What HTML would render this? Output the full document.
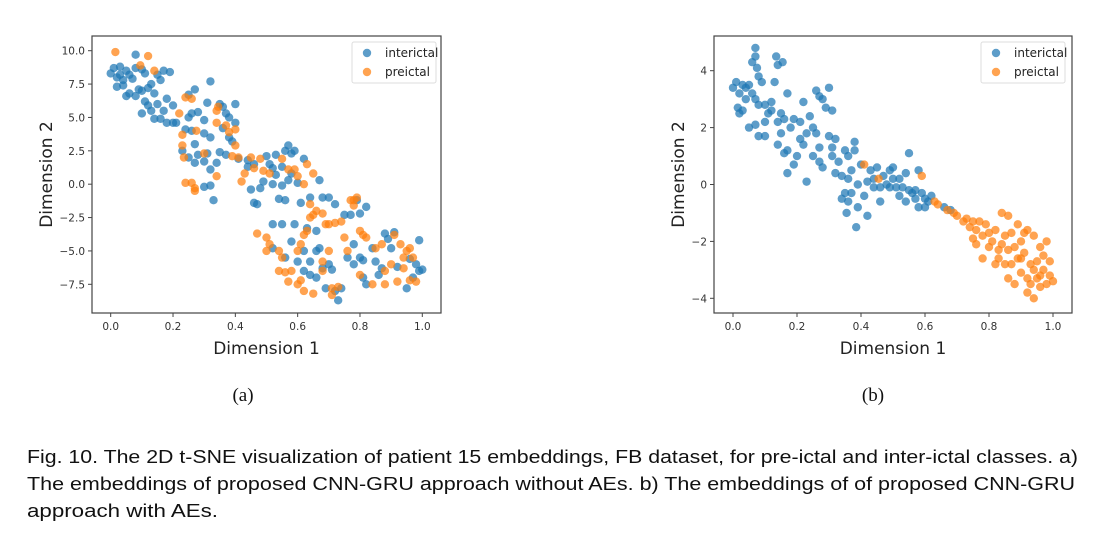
<!DOCTYPE html>
<html><head><meta charset="utf-8"><style>
html,body{margin:0;padding:0;background:#fff;}
svg{display:block;}
.tick{font-family:"DejaVu Sans","Liberation Sans",sans-serif;font-size:10.5px;fill:#333;}
.axl{font-family:"DejaVu Sans","Liberation Sans",sans-serif;font-size:17px;fill:#222;}
.leg{font-family:"DejaVu Sans","Liberation Sans",sans-serif;font-size:12px;fill:#222;}
.cap{font-family:"Liberation Sans",sans-serif;font-size:18px;fill:#111;}
.sub{font-family:"Liberation Serif",serif;font-size:19px;fill:#111;}
</style></head><body>
<svg id="root" width="1095" height="533" viewBox="0 0 1095 533" xmlns="http://www.w3.org/2000/svg">
<text class="sub" x="243" y="401" text-anchor="middle">(a)</text>
<text class="sub" x="873" y="401" text-anchor="middle">(b)</text>
<text class="cap" x="27" y="463" textLength="1051" lengthAdjust="spacingAndGlyphs">Fig. 10.  The 2D t-SNE visualization of patient 15 embeddings, FB dataset, for pre-ictal and inter-ictal classes. a)</text>
<text class="cap" x="27" y="490" textLength="1048" lengthAdjust="spacingAndGlyphs">The embeddings of proposed CNN-GRU approach without AEs. b) The embeddings of of proposed CNN-GRU</text>
<text class="cap" x="27" y="517" textLength="191" lengthAdjust="spacingAndGlyphs">approach with AEs.</text>
</svg>
<script>
const xTicksA = [0.0,0.2,0.4,0.6,0.8,1.0];
const xTickLabelsA = ["0.0","0.2","0.4","0.6","0.8","1.0"];
const yTicksA = [10,7.5,5,2.5,0,-2.5,-5,-7.5];
const yTickLabelsA = ["10.0","7.5","5.0","2.5","0.0","\u22122.5","\u22125.0","\u22127.5"];
const interictalA = [[0.0,8.3],[0.01,8.7],[0.02,8.0],[0.03,8.8],[0.02,7.3],[0.04,7.8],[0.05,8.5],[0.06,8.2],[0.04,7.4],[0.07,7.9],[0.08,8.7],[0.06,6.8],[0.08,6.6],[0.09,7.1],[0.1,8.6],[0.11,8.3],[0.1,7.0],[0.12,7.2],[0.11,6.2],[0.13,7.5],[0.14,6.8],[0.15,6.0],[0.13,5.5],[0.1,5.3],[0.16,7.8],[0.17,8.5],[0.19,8.4],[0.18,6.4],[0.17,5.5],[0.16,4.9],[0.18,4.6],[0.2,4.6],[0.21,4.6],[0.2,5.9],[0.15,8.2],[0.08,9.7],[0.03,8.2],[0.05,6.6],[0.12,5.9],[0.14,4.9],
[0.25,6.7],[0.27,7.1],[0.25,5.0],[0.26,5.3],[0.28,5.4],[0.24,4.1],[0.26,4.0],[0.27,3.0],[0.28,2.2],[0.27,1.6],[0.25,2.0],[0.23,2.5],[0.3,4.8],[0.31,6.1],[0.32,7.7],[0.3,3.8],[0.32,3.5],[0.31,2.3],[0.3,1.7],[0.32,1.1],[0.33,-1.2],[0.3,-0.2],[0.32,-0.1],[0.35,6.0],[0.36,5.8],[0.37,5.3],[0.36,4.2],[0.38,3.5],[0.38,5.0],[0.4,6.0],[0.4,4.6],[0.35,2.4],[0.37,2.2],[0.34,1.6],[0.39,3.2],[0.41,1.9],[0.44,1.8],[0.44,1.3],[0.46,1.5],[0.45,-0.4],[0.46,-1.4],[0.47,-1.5],[0.48,-0.3],[0.49,0.2],[0.5,2.1],[0.51,1.5],[0.52,1.2],[0.52,0.0],[0.53,0.7],[0.54,-1.1],[0.53,2.2],[0.56,2.5],[0.57,2.9],[0.58,2.3],[0.59,2.5],[0.55,1.3],[0.57,0.3],[0.6,0.1],[0.62,1.9],[0.61,-1.4],[0.56,-1.2],[0.55,-0.1],[0.58,0.8],
[0.52,-3.0],[0.55,-3.0],[0.59,-3.0],[0.52,-4.8],[0.56,-5.5],[0.58,-4.3],[0.6,-5.8],[0.62,-5.0],[0.62,-6.5],[0.64,-5.8],[0.64,-6.8],[0.66,-5.0],[0.67,-4.8],[0.66,-7.0],[0.68,-6.3],[0.7,-6.0],[0.71,-6.4],[0.69,-7.8],[0.72,-8.0],[0.73,-8.7],[0.74,-7.8],[0.66,-3.5],[0.68,-1.0],[0.7,-1.0],[0.72,-1.5],[0.75,-2.3],[0.77,-2.3],[0.76,-5.5],[0.78,-4.5],[0.78,-6.0],[0.8,-5.5],[0.81,-5.7],[0.81,-7.0],[0.82,-7.5],[0.82,-1.7],[0.8,-2.2],[0.79,-1.2],[0.84,-4.8],[0.85,-5.8],[0.86,-6.8],[0.87,-6.3],[0.88,-3.7],[0.89,-4.1],[0.9,-4.8],[0.91,-3.6],[0.92,-6.2],[0.95,-7.8],[0.96,-5.6],[0.98,-6.0],[0.99,-6.5],[1.0,-6.4],[0.99,-4.2],[0.97,-7.0],[0.64,-1.0],[0.67,0.3],[0.63,-3.3]];
const preictalA = [[0.015,9.9],[0.12,9.6],[0.095,8.9],[0.14,8.5],[0.22,5.3],[0.24,6.5],[0.26,6.4],[0.23,3.7],[0.23,2.9],[0.235,2.0],[0.24,0.1],[0.26,0.1],[0.27,-0.3],[0.27,-0.5],[0.275,4.0],[0.3,2.3],[0.34,5.5],[0.345,5.8],[0.34,4.6],[0.37,4.4],[0.38,3.9],[0.4,4.1],[0.4,2.9],[0.39,2.1],[0.41,2.0],[0.34,0.6],[0.42,0.2],[0.43,0.8],[0.45,2.0],[0.46,1.2],[0.48,1.9],[0.49,1.0],[0.51,0.8],[0.55,1.9],[0.57,1.1],[0.59,1.1],[0.6,0.6],[0.62,0.0],[0.63,1.5],[0.65,0.8],[0.64,-1.5],[0.65,-2.3],[0.66,-2.0],[0.68,-2.2],[0.64,-2.5],[0.63,-3.5],[0.62,-3.8],[0.61,-4.5],[0.6,-5.0],[0.69,-3.0],[0.7,-3.0],[0.72,-2.9],[0.74,-2.8],[0.77,-1.2],[0.78,-1.2],[0.79,-1.0],[0.78,-1.6],[0.8,-3.5],[0.81,-3.8],[0.82,-4.0],[0.85,-4.8],[0.87,-4.5],[0.47,-3.7],[0.5,-4.0],[0.51,-4.5],[0.5,-5.0],[0.54,-5.0],[0.55,-5.5],[0.54,-6.5],[0.56,-6.6],[0.57,-7.3],[0.58,-6.5],[0.6,-7.5],[0.61,-7.2],[0.62,-8.0],[0.65,-8.2],[0.68,-6.5],[0.7,-5.0],[0.71,-7.8],[0.71,-8.3],[0.73,-7.7],[0.76,-5.0],[0.8,-6.8],[0.84,-7.5],[0.88,-7.5],[0.88,-6.5],[0.9,-6.0],[0.92,-7.3],[0.93,-4.5],[0.94,-5.5],[0.95,-5.0],[0.96,-4.8],[0.94,-6.3],[0.96,-7.2],[0.98,-7.3],[0.97,-5.5],[0.91,-3.8],[0.75,-4.0],[0.68,-5.8]];

const xTicksB = [0.0,0.2,0.4,0.6,0.8,1.0];
const xTickLabelsB = ["0.0","0.2","0.4","0.6","0.8","1.0"];
const yTicksB = [4,2,0,-2,-4];
const yTickLabelsB = ["4","2","0","\u22122","\u22124"];
const interictalB = [[0.0,3.4],[0.01,3.6],[0.02,3.2],[0.015,2.7],[0.02,2.5],[0.03,3.5],[0.04,3.0],[0.03,2.6],[0.05,3.5],[0.05,2.0],[0.06,3.2],[0.06,4.3],[0.07,4.8],[0.07,4.5],[0.075,4.1],[0.08,3.8],[0.07,3.0],[0.08,2.8],[0.07,2.1],[0.08,1.7],[0.1,1.7],[0.09,3.6],[0.1,2.8],[0.11,2.5],[0.1,2.2],[0.12,2.6],[0.13,3.6],[0.135,4.5],[0.14,4.2],[0.155,4.3],[0.14,2.2],[0.15,2.5],[0.16,2.3],[0.15,1.8],[0.14,1.4],[0.16,1.1],[0.17,3.2],[0.18,2.0],[0.19,2.3],[0.17,1.2],[0.19,0.7],[0.17,0.4],[0.2,1.0],[0.21,2.2],[0.22,2.9],[0.21,1.6],[0.22,1.4],[0.23,0.1],[0.24,2.4],[0.25,2.0],[0.26,3.3],[0.27,3.1],[0.26,1.8],[0.27,1.3],[0.28,3.0],[0.29,2.7],[0.25,1.0],[0.27,0.8],[0.28,0.6],[0.3,3.4],[0.31,2.6],[0.3,1.7],[0.32,1.6],[0.31,1.0],[0.33,0.8],[0.32,0.4],[0.34,0.3],[0.35,1.2],[0.36,1.0],[0.37,0.5],[0.38,1.5],[0.38,1.2],[0.36,0.2],[0.35,-0.3],[0.34,-0.5],[0.36,-0.6],[0.37,-0.3],[0.39,-0.8],[0.355,-1.0],[0.385,-1.5],[0.42,-1.1],[0.41,-0.4],[0.39,0.0],[0.4,0.7],[0.43,0.5],[0.44,0.2],[0.45,0.6],[0.46,-0.1],[0.46,-0.6],[0.47,0.3],[0.48,0.0],[0.49,0.5],[0.5,0.6],[0.5,0.2],[0.51,-0.1],[0.52,0.2],[0.53,-0.1],[0.54,0.4],[0.55,-0.2],[0.54,-0.6],[0.55,1.1],[0.56,-0.3],[0.57,-0.5],[0.58,-0.8],[0.58,0.5],[0.59,-0.3],[0.6,-0.5],[0.6,-0.8],[0.61,-0.6],[0.62,-0.4],[0.57,-0.2],[0.52,-0.4],[0.44,-0.1],[0.42,0.1],[0.49,-0.1],[0.31,1.3],[0.23,1.8],[0.12,2.9],[0.04,3.4],[0.66,-0.8],[0.68,-0.9]];
const preictalB = [[0.41,0.7],[0.455,0.2],[0.59,0.3],[0.63,-0.6],[0.64,-0.7],[0.67,-0.9],[0.69,-1.0],[0.7,-1.1],[0.72,-1.3],[0.73,-1.2],[0.74,-1.5],[0.75,-1.3],[0.76,-1.6],[0.77,-1.3],[0.75,-1.9],[0.76,-2.1],[0.78,-1.8],[0.79,-1.4],[0.8,-1.7],[0.8,-2.2],[0.81,-2.0],[0.82,-1.6],[0.83,-2.6],[0.84,-2.1],[0.84,-1.0],[0.86,-1.1],[0.85,-1.8],[0.86,-2.3],[0.87,-2.8],[0.87,-1.7],[0.88,-2.2],[0.89,-1.4],[0.89,-2.6],[0.9,-3.1],[0.9,-2.0],[0.91,-2.4],[0.92,-1.6],[0.92,-3.3],[0.93,-2.8],[0.93,-3.5],[0.94,-1.8],[0.94,-3.0],[0.95,-2.7],[0.95,-3.3],[0.96,-2.2],[0.96,-3.6],[0.97,-2.5],[0.97,-3.0],[0.98,-2.0],[0.98,-3.5],[0.99,-2.7],[0.99,-3.2],[1.0,-3.4],[0.94,-4.0],[0.92,-3.8],[0.88,-3.5],[0.86,-3.3],[0.83,-2.3],[0.85,-2.8],[0.9,-2.6],[0.96,-3.2],[0.91,-1.7],[0.78,-2.6],[0.82,-2.8]];

const NS="http://www.w3.org/2000/svg";
const root=document.getElementById('root');
function mk(tag,attrs,parent){const e=document.createElementNS(NS,tag);for(const k in attrs)e.setAttribute(k,attrs[k]);(parent||root).appendChild(e);return e;}

function drawChart(cfg){
  const g=mk('g',{});
  
  
  const sx=v=>cfg.x0px+(v-cfg.xd[0])/(cfg.xd[1]-cfg.xd[0])*(cfg.x1px-cfg.x0px);
  const sy=v=>cfg.y0px+(v-cfg.yd[0])/(cfg.yd[1]-cfg.yd[0])*(cfg.y1px-cfg.y0px);
  const fr=mk('rect',{x:cfg.L,y:cfg.T,width:cfg.R-cfg.L,height:cfg.B-cfg.T,fill:'#fff',stroke:'#444','stroke-width':1.2},g);
  
  
  const series=[[cfg.blue,'#1f77b4','interictal'],[cfg.orange,'#ff7f0e','preictal']];
  series.forEach(([pts,col,nm])=>{
    pts.forEach(p=>{
      const c=mk('circle',{cx:sx(p[0]),cy:sy(p[1]),r:4.2,fill:col,'fill-opacity':0.72},g);
      
      
    });
  });
  cfg.xt.forEach((v,i)=>{
    const X=sx(v);
    mk('line',{x1:X,x2:X,y1:cfg.B,y2:cfg.B+4,stroke:'#444'},g);
    const t=mk('text',{x:X,y:cfg.B+17,'text-anchor':'middle',class:'tick'},g);
    t.textContent=cfg.xl[i];
    
    
  });
  cfg.yt.forEach((v,i)=>{
    const Y=sy(v);
    mk('line',{x1:cfg.L-4,x2:cfg.L,y1:Y,y2:Y,stroke:'#444'},g);
    const t=mk('text',{x:cfg.L-7,y:Y+4,'text-anchor':'end',class:'tick'},g);
    t.textContent=cfg.yl[i];
    
    
  });
  const xa=mk('text',{x:(cfg.L+cfg.R)/2,y:354,'text-anchor':'middle',class:'axl'},g);
  xa.textContent='Dimension 1';
  
  
  const ya=mk('text',{x:cfg.yax,y:(cfg.T+cfg.B)/2,'text-anchor':'middle',class:'axl',transform:`rotate(-90 ${cfg.yax} ${(cfg.T+cfg.B)/2})`},g);
  ya.textContent='Dimension 2';
  
  
  const lg=mk('g',{},g);
  
  
  mk('rect',{x:cfg.lx,y:42,width:84,height:41,rx:2,fill:'#fff','fill-opacity':0.8,stroke:'#ddd'},lg);
  series.forEach(([p,col,nm],i)=>{
    const e=mk('g',{},lg);
    
    
    mk('circle',{cx:cfg.lx+15,cy:53+i*19,r:4.2,fill:col,'fill-opacity':0.72},e);
    const t=mk('text',{x:cfg.lx+33,y:57+i*19,class:'leg'},e);
    t.textContent=nm;
  });
}
drawChart({name:'chart-a',L:92,R:441,T:36,B:313,x0px:110.7,x1px:422.3,xd:[0,1],y0px:50.7,y1px:284.3,yd:[10,-7.5],xt:xTicksA,xl:xTickLabelsA,yt:yTicksA,yl:yTickLabelsA,blue:interictalA,orange:preictalA,lx:352,yax:52});
drawChart({name:'chart-b',L:714,R:1072,T:36,B:313,x0px:733,x1px:1053,xd:[0,1],y0px:70.7,y1px:298.3,yd:[4,-4],xt:xTicksB,xl:xTickLabelsB,yt:yTicksB,yl:yTickLabelsB,blue:interictalB,orange:preictalB,lx:981,yax:684});
</script>
</body></html>
